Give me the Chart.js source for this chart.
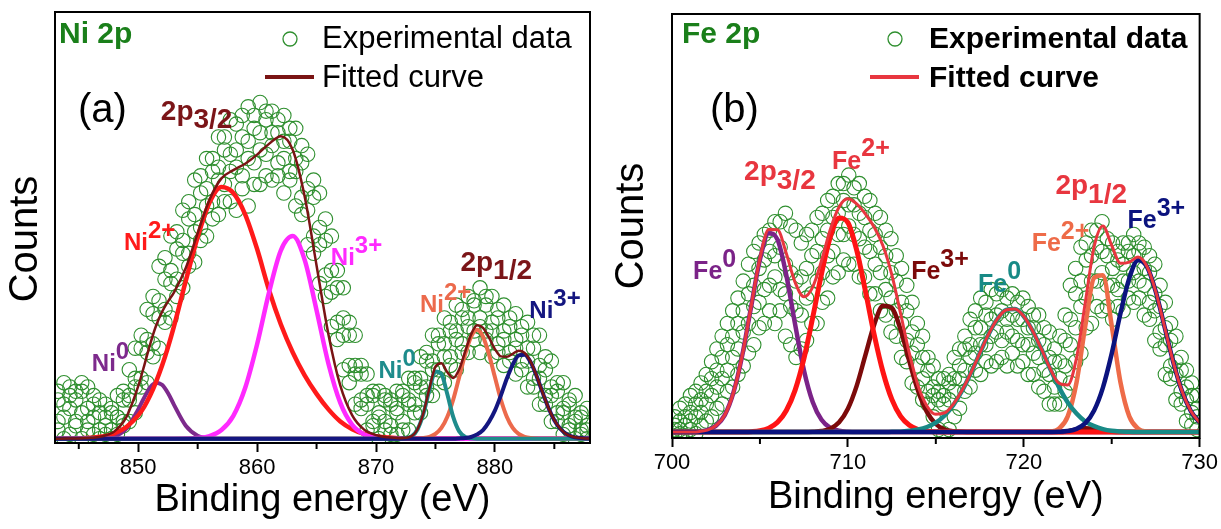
<!DOCTYPE html>
<html>
<head>
<meta charset="utf-8">
<script src="https://cdn.jsdelivr.net/npm/chart.js@4.4.1/dist/chart.umd.min.js"></script>
<style>
  body { margin: 0; background: #fff; }
  #wrap { position: relative; width: 1221px; height: 529px; }
  canvas { position: absolute; top: 0; }
</style>
</head>
<body>
<div id="wrap">
  <canvas id="ni_chart" width="610" height="529" style="left:0px"></canvas>
  <canvas id="fe_chart" width="611" height="529" style="left:610px"></canvas>
</div>
<script>
// ---- Ni 2p (a) ----
const niGrid = [843,844,845,846,847,848,849,850,
  850.5,851,851.5,852,852.5,853,
  854,855,856,857,858,859,860,861,862,863,
  864,865,866,867,868,869,870,871,872,873,
  873.5,874,874.5,875,875.5,876,876.5,877,877.5,878,
  878.5,879,879.5,880,880.5,881,881.5,882,882.5,883,
  883.5,884,884.5,885,885.5,886,886.5,887,888];
const niFit = [1.0,1.02,1.06,1.2,1.56,2.7,6.0,13.2,
  17.9,22.9,27.2,30.4,32.8,34.9,
  40.6,48.7,56.5,61.4,63.3,64.8,66.9,69.4,71.2,68.0,
  57.2,41.2,25.2,13.3,6.4,3.1,1.82,1.31,1.12,1.61,
  3.25,7.04,12.8,17.7,18.5,16.4,15.1,17.1,21.2,25.2,
  27.3,26.7,24.5,21.8,20.1,20.0,20.7,21.4,20.9,18.9,
  15.65,11.8,8.2,5.3,3.3,2.1,1.5,1.2,1.03];
const niZero = [1,1,1,1,1.06,1.5,3.3,7.8,
  10.5,12.9,14.0,13.5,11.6,8.9,
  4.0,1.7,1.1,1,1,1,1,1,1,1,
  1,1,1,1,1,1,1,1,1,1,
  1,1,1,1,1,1,1,1,1,1,
  1,1,1,1,1,1,1,1,1,1,
  1,1,1,1,1,1,1,1,1];
const niTwo = [1,1.02,1.06,1.2,1.5,2.2,3.7,6.4,
  8.4,11.0,14.2,17.9,22.2,27.0,
  37.6,47.8,55.8,59.4,58.0,53,45,35.5,27.5,21,
  15.7,11.4,7.8,5.0,3.2,2.1,1.56,1.26,1.12,1.05,
  1,1,1,1,1,1,1,1,1,1,
  1,1,1,1,1,1,1,1,1,1,
  1,1,1,1,1,1,1,1,1];
const niThree = [1,1,1,1,1,1,1,1,
  1,1,1,1,1,1,
  1.03,1.16,1.6,3.0,6.3,12.8,22.9,34.9,44.7,48,
  42.5,30.8,18.4,9.3,4.2,2.0,1.26,1.05,1,1,
  1,1,1,1,1,1,1,1,1,1,
  1,1,1,1,1,1,1,1,1,1,
  1,1,1,1,1,1,1,1,1];
const niZeroB = [1,1,1,1,1,1,1,1,
  1,1,1,1,1,1,
  1,1,1,1,1,1,1,1,1,1,
  1,1,1,1,1,1,1,1,1,1.56,
  3.2,6.9,12.4,16.6,16.0,11.3,6.0,2.7,1.41,1.07,
  1,1,1,1,1,1,1,1,1,1,
  1,1,1,1,1,1,1,1,1];
const niTwoB = [1,1,1,1,1,1,1,1,
  1,1,1,1,1,1,
  1,1,1,1,1,1,1,1,1,1,
  1,1,1,1,1,1,1,1,1,1,
  1.05,1.14,1.43,2.1,3.5,6.1,10.1,15.3,20.6,24.7,
  26.3,24.7,20.6,15.3,10.1,6.1,3.5,2.1,1.43,1.14,
  1.05,1,1,1,1,1,1,1,1];
const niThreeB = [1,1,1,1,1,1,1,1,
  1,1,1,1,1,1,
  1,1,1,1,1,1,1,1,1,1,
  1,1,1,1,1,1,1,1,1,1,
  1,1,1,1,1,1,1,1.06,1.16,1.4,
  2.0,3.0,4.9,7.5,11.0,14.9,18.2,20.3,20.5,18.8,
  15.6,11.8,8.2,5.3,3.3,2.1,1.5,1.2,1.03];
// measured counts: [energy, several readings]
const niExp = [
  [843.25,3,5,10,12],[843.75,1,6,9,14],[844.25,2,8,11,13],[844.75,4,5,10,12],
  [845.25,1,7,12,14],[845.75,3,5,8,13],[846.25,2,6,9,11],[846.75,1,3,7,10],
  [847.25,2,4,6,9],[847.75,1,3,7,8],[848.25,2,6,6,11],[848.75,4,5,10,12],
  [849.25,5,10,11,17],[849.75,7,13,15,22],[850.25,13,15,22,25],[850.75,14,21,24,31],
  [851.25,20,23,30,34],[851.75,22,29,33,41],[852.25,28,31,38,43],[852.75,29,37,40,48],
  [853.25,34,38,45,49],[853.75,36,44,47,54],[854.25,41,44,52,56],[854.75,42,49,53,61],
  [855.25,47,50,58,62],[855.75,48,55,59,66],[856.25,52,56,63,66],[856.75,53,61,64,71],
  [857.25,56,60,68,71],[857.75,56,63,67,75],[858.25,54,64,68,74],[858.75,59,62,71,76],
  [859.25,55,66,70,78],[859.75,60,65,73,76],[860.25,60,68,72,79],[860.75,62,67,75,77],
  [861.25,61,69,72,77],[861.75,62,65,72,75],[862.25,58,66,70,76],[862.75,61,63,70,73],
  [863.25,55,63,66,73],[863.75,53,57,65,69],[864.25,46,54,59,67],[864.75,44,48,57,61],
  [865.25,37,46,50,58],[865.75,34,39,47,52],[866.25,27,35,40,48],[866.75,24,28,36,40],
  [867.25,17,25,29,36],[867.75,14,18,25,28],[868.25,9,16,18,25],[868.75,8,10,16,18],
  [869.25,3,9,11,16],[869.75,4,5,11,12],[870.25,1,6,7,12],[870.75,3,5,10,11],
  [871.25,2,4,9,10],[871.75,2,7,8,12],[872.25,3,5,11,12],[872.75,3,9,10,15],
  [873.25,7,9,14,15],[873.75,7,13,15,20],[874.25,11,13,19,21],[874.75,11,17,19,25],
  [875.25,15,17,23,25],[875.75,14,20,23,29],[876.25,18,20,26,28],[876.75,17,24,26,32],
  [877.25,21,23,29,31],[877.75,21,27,29,34],[878.25,24,26,32,33],[878.75,21,27,29,36],
  [879.25,24,26,32,34],[879.75,20,26,28,34],[880.25,21,23,29,31],[880.75,18,24,26,32],
  [881.25,19,21,27,29],[881.75,16,22,24,30],[882.25,17,19,25,27],[882.75,13,19,22,28],
  [883.25,13,15,22,25],[883.75,9,15,18,25],[884.25,9,11,17,20],[884.75,5,11,13,19],
  [885.25,5,7,12,14],[885.75,2,7,8,14],[886.25,3,4,9,10],[886.75,1,5,6,11],
  [887.25,2,3,6,7],[887.75,1,3,4,8]
];
const niMinorTicks = [845, 855, 865, 875, 885];

// ---- Fe 2p (b) ----
const feGrid = [700,700.5,701,701.5,702,702.5,703,703.5,704,704.5,
  705,705.5,706,706.5,707,707.5,708,708.5,709,709.5,
  710,710.5,711,711.5,712,712.5,713,713.5,714,714.5,
  715,715.5,716,716.5,717,717.5,718,718.5,719,719.5,
  720,720.5,721,721.5,722,722.5,723,723.5,724,724.5,
  725,725.5,726,726.5,727,727.5,728,728.5,729,729.5,
  730];
const feFit = [1.4,1.4,1.42,1.5,1.85,2.9,5.4,10.8,19.6,31.1,
  42.4,49.2,49.1,43.5,36.7,33.3,35.6,41.8,49.2,54.5,
  56.4,55.2,52.8,49.7,45.3,38.5,29.3,19.9,12.2,7.5,
  5.6,5.9,8.0,11.3,15.4,20.0,24.5,28.1,30.2,30.4,
  28.7,25.3,21.0,16.4,12.9,12.5,18.9,32.0,45.1,50.0,
  45.4,41.2,41.5,42.7,40.5,34.6,26.3,17.9,11.0,6.35,
  3.66];
const feZero = [1.4,1.4,1.42,1.5,1.85,2.9,5.4,10.8,19.6,31.0,
  42.1,48.3,46.8,38.4,26.8,16.0,8.5,4.3,2.4,1.7,
  1.47,1.4,1.4,1.4,1.4,1.4,1.4,1.4,1.4,1.4,
  1.4,1.4,1.4,1.4,1.4,1.4,1.4,1.4,1.4,1.4,
  1.4,1.4,1.4,1.4,1.4,1.4,1.4,1.4,1.4,1.4,
  1.4,1.4,1.4,1.4,1.4,1.4,1.4,1.4,1.4,1.4,
  1.4];
const feTwo = [1.4,1.4,1.4,1.4,1.4,1.4,1.4,1.4,1.43,1.5,
  1.7,2.3,3.7,6.5,11.3,18.7,28.4,38.7,47.4,51.9,
  50.8,44.3,34.6,24.3,15.5,9.1,5.1,3.0,2.0,1.6,
  1.47,1.42,1.4,1.4,1.4,1.4,1.4,1.4,1.4,1.4,
  1.4,1.4,1.4,1.4,1.4,1.4,1.4,1.4,1.4,1.4,
  1.4,1.4,1.4,1.4,1.4,1.4,1.4,1.4,1.4,1.4,
  1.4];
const feThree = [1.4,1.4,1.4,1.4,1.4,1.4,1.4,1.4,1.4,1.4,
  1.4,1.4,1.4,1.4,1.4,1.4,1.46,1.64,2.2,3.7,
  6.9,12.3,19.6,26.8,31.2,30.7,25.5,18.0,11.0,6.1,
  3.3,2.0,1.6,1.45,1.4,1.4,1.4,1.4,1.4,1.4,
  1.4,1.4,1.4,1.4,1.4,1.6,2.0,2.3,2.2,1.8,
  1.5,1.4,1.4,1.4,1.4,1.4,1.4,1.4,1.4,1.4,
  1.4];
const feZeroB = [1.4,1.4,1.4,1.4,1.4,1.4,1.4,1.4,1.4,1.4,
  1.4,1.4,1.4,1.4,1.4,1.4,1.4,1.4,1.4,1.4,
  1.4,1.4,1.4,1.4,1.4,1.45,1.5,1.7,2.0,2.6,
  3.6,5.3,7.8,11.2,15.4,20.0,24.5,28.1,30.2,30.4,
  28.7,25.3,21.0,16.3,12.0,8.4,5.8,3.9,2.8,2.1,
  1.7,1.54,1.47,1.4,1.4,1.4,1.4,1.4,1.4,1.4,
  1.4];
const feTwoB = [1.4,1.4,1.4,1.4,1.4,1.4,1.4,1.4,1.4,1.4,
  1.4,1.4,1.4,1.4,1.4,1.4,1.4,1.4,1.4,1.4,
  1.4,1.4,1.4,1.4,1.4,1.4,1.4,1.4,1.4,1.4,
  1.4,1.4,1.4,1.4,1.4,1.4,1.4,1.4,1.4,1.4,
  1.4,1.4,1.4,1.5,2.2,5.1,13.1,26.5,37.8,38.4,
  26.5,13.1,5.1,2.2,1.5,1.4,1.4,1.4,1.4,1.4,
  1.4];
const feThreeB = [1.4,1.4,1.4,1.4,1.4,1.4,1.4,1.4,1.4,1.4,
  1.4,1.4,1.4,1.4,1.4,1.4,1.4,1.4,1.4,1.4,
  1.4,1.4,1.4,1.4,1.4,1.4,1.4,1.4,1.4,1.4,
  1.4,1.4,1.4,1.4,1.4,1.4,1.4,1.4,1.4,1.4,
  1.4,1.4,1.4,1.41,1.46,1.63,2.15,3.5,6.5,11.9,
  19.9,29.4,37.7,41.9,40.4,34.6,26.3,17.9,11.0,6.35,
  3.66];
const feExp = [
  [700.15,0.5,2,3,5],[700.45,1,2,4,7],[700.75,0.5,3,5,8],[701.05,2,4,6,10],
  [701.35,1,5,8,11],[701.65,3,6,9,13],[701.95,4,8,11,15],[702.25,5,10,14,18],
  [702.55,7,12,16,21],[702.85,8,14,19,24],[703.15,11,16,22,27],[703.45,12,19,24,30],
  [703.75,15,21,27,33],[704.05,17,25,30,37],[704.35,20,27,34,41],[704.65,22,31,36,44],
  [704.95,26,32,40,46],[705.25,27,35,42,48],[705.55,30,36,44,49],[705.85,27,38,43,51],
  [706.15,30,35,45,51],[706.45,24,34,41,53],[706.75,22,31,39,50],[707.05,19,30,37,49],
  [707.35,21,29,38,46],[707.65,23,33,40,48],[707.95,27,34,43,49],[708.25,27,37,44,52],
  [708.55,32,39,47,53],[708.85,33,43,49,56],[709.15,38,44,52,57],[709.45,39,48,53,60],
  [709.75,42,48,56,60],[710.05,41,50,55,62],[710.35,41,48,55,59],[710.65,38,47,53,60],
  [710.95,38,45,52,57],[711.25,34,44,49,56],[711.55,34,41,48,53],[711.85,30,39,45,52],
  [712.15,29,35,43,49],[712.45,25,33,39,47],[712.75,24,30,37,43],[713.05,19,27,32,40],
  [713.35,18,23,30,36],[713.65,13,20,25,32],[713.95,12,17,22,27],[714.25,9,14,19,24],
  [714.55,8,11,16,19],[714.85,5,10,12,17],[715.15,2,9,11,14],[715.45,1,8,10,14],
  [715.75,2,9,13,15],[716.05,5,11,14,19],[716.35,7,14,17,21],[716.65,11,16,21,24],
  [716.95,12,19,22,28],[717.25,16,20,26,30],[717.55,15,22,26,33],[717.85,18,22,29,32],
  [718.15,17,24,28,35],[718.45,18,25,29,34],[718.75,19,23,30,35],[719.05,17,25,28,33],
  [719.35,20,24,29,34],[719.65,17,23,28,32],[719.95,18,22,28,33],[720.25,15,22,26,31],
  [720.55,15,20,26,29],[720.85,12,19,23,29],[721.15,11,16,22,26],[721.45,8,15,19,25],
  [721.75,8,12,18,21],[722.05,8,14,18,24],[722.35,11,17,23,29],[722.65,13,22,28,36],
  [722.95,18,26,34,40],[723.25,20,31,37,45],[723.55,26,33,42,46],[723.85,27,37,43,49],
  [724.15,31,37,45,49],[724.45,30,39,44,51],[724.75,31,36,43,47],[725.05,28,36,40,46],
  [725.35,31,35,42,44],[725.65,30,37,41,46],[725.95,33,37,44,46],[726.25,32,39,43,48],
  [726.55,33,37,44,46],[726.85,29,36,40,45],[727.15,28,32,39,43],[727.45,23,30,34,41],
  [727.75,21,25,31,36],[728.05,15,22,26,32],[728.35,14,17,23,27],[728.65,9,15,18,24],
  [728.95,8,11,16,19],[729.25,4,9,12,16],[729.55,3,6,10,13],[729.85,2,5,7,10]
];
const feMinorTicks = [705, 715, 725];

const FONT = '"Liberation Sans", Arial, sans-serif';
const GREEN = "#2f8f2f";

// peak labels: parts are [text, baseline shift in em]
const niNotes = [
  {parts: [["2p", 0], ["3/2", 0.3]], color: "#7b1518", x: 851.9, y: 75.0, size: 28},
  {parts: [["Ni", 0], ["2+", -0.5]], color: "#ff1a1a", x: 848.8, y: 44.8, size: 24},
  {parts: [["Ni", 0], ["3+", -0.5]], color: "#ff2aff", x: 866.2, y: 41.4, size: 24},
  {parts: [["Ni", 0], ["0", -0.5]], color: "#7d2a8c", x: 846.1, y: 16.8, size: 24},
  {parts: [["2p", 0], ["1/2", 0.3]], color: "#7b1518", x: 877.1, y: 40.0, size: 28},
  {parts: [["Ni", 0], ["2+", -0.5]], color: "#ec6a4c", x: 873.7, y: 30.3, size: 24},
  {parts: [["Ni", 0], ["0", -0.5]], color: "#1e8c8c", x: 870.2, y: 15.0, size: 24},
  {parts: [["Ni", 0], ["3+", -0.5]], color: "#141680", x: 882.9, y: 29.0, size: 24}
];
const feNotes = [
  {parts: [["2p", 0], ["3/2", 0.3]], color: "#e8363f", x: 704.1, y: 60.8, size: 28},
  {parts: [["Fe", 0], ["2+", -0.5]], color: "#e8363f", x: 709.1, y: 63.5, size: 25},
  {parts: [["Fe", 0], ["0", -0.5]], color: "#7b2388", x: 701.2, y: 37.5, size: 25},
  {parts: [["Fe", 0], ["3+", -0.5]], color: "#7c0a0a", x: 713.6, y: 37.5, size: 25},
  {parts: [["Fe", 0], ["0", -0.5]], color: "#188a86", x: 717.4, y: 34.5, size: 25},
  {parts: [["2p", 0], ["1/2", 0.3]], color: "#e8363f", x: 721.8, y: 57.5, size: 28},
  {parts: [["Fe", 0], ["2+", -0.5]], color: "#ee6b48", x: 720.45, y: 44.0, size: 25},
  {parts: [["Fe", 0], ["3+", -0.5]], color: "#0b137e", x: 725.9, y: 49.5, size: 25}
];

function drawRich(ctx, parts, x, y, size, color, weight) {
  ctx.fillStyle = color;
  ctx.textAlign = "left";
  ctx.textBaseline = "alphabetic";
  let cx = x;
  parts.forEach(([t, shift]) => {
    ctx.font = weight + " " + size + "px " + FONT;
    ctx.fillText(t, cx, y + shift * size);
    cx += ctx.measureText(t).width;
  });
}

const decor = {
  id: "decor",
  afterDraw(chart, args, o) {
    const ctx = chart.ctx, a = chart.chartArea;
    const xs = chart.scales.x, ys = chart.scales.y;
    ctx.save();
    // minor ticks
    ctx.strokeStyle = "#000";
    ctx.lineWidth = 2;
    o.minor.forEach(v => {
      const px = xs.getPixelForValue(v);
      ctx.beginPath();
      ctx.moveTo(px, a.bottom);
      ctx.lineTo(px, a.bottom + 6);
      ctx.stroke();
    });
    // frame
    ctx.strokeRect(a.left, a.top, a.right - a.left, a.bottom - a.top);
    // peak labels
    o.notes.forEach(n => {
      drawRich(ctx, n.parts, xs.getPixelForValue(n.x), ys.getPixelForValue(n.y), n.size, n.color, "bold");
    });
    // panel tag and letter
    drawRich(ctx, [[o.tag, 0]], o.tagX, o.tagY, 30, "#1a7f1a", "bold");
    drawRich(ctx, [[o.letter, 0]], o.letterX, o.letterY, 40, "#000", "normal");
    // y title
    ctx.save();
    ctx.translate(o.countsX, o.countsY);
    ctx.rotate(-Math.PI / 2);
    ctx.font = "40px " + FONT;
    ctx.fillStyle = "#000";
    ctx.textAlign = "center";
    ctx.textBaseline = "middle";
    ctx.fillText("Counts", 0, 0);
    ctx.restore();
    // legend
    ctx.strokeStyle = GREEN;
    ctx.lineWidth = 1.3;
    ctx.beginPath();
    ctx.arc(o.circleX, o.circleY, 7, 0, Math.PI * 2);
    ctx.stroke();
    ctx.strokeStyle = o.fitColor;
    ctx.lineWidth = 4;
    ctx.beginPath();
    ctx.moveTo(o.lineX1, o.lineY);
    ctx.lineTo(o.lineX2, o.lineY);
    ctx.stroke();
    drawRich(ctx, [["Experimental data", 0]], o.textX, o.row1Y, o.legendSize, "#000", o.legendWeight);
    drawRich(ctx, [["Fitted curve", 0]], o.textX, o.row2Y, o.legendSize, "#000", o.legendWeight);
    ctx.restore();
  }
};

function buildChart(id, p) {
  const lines = p.fits.map(f => ({
    data: p.grid.map((x, i) => ({x: x, y: f.values[i]})),
    showLine: true,
    pointRadius: 0,
    borderColor: f.color,
    borderWidth: f.width,
    cubicInterpolationMode: "monotone",
    fill: false,
    order: f.order
  }));
  const pts = p.exp.flatMap(r => r.slice(1).map(y => ({x: r[0], y: y})));
  lines.push({
    data: pts,
    showLine: false,
    pointRadius: 7.2,
    pointBorderWidth: 1.1,
    pointBorderColor: GREEN,
    pointBackgroundColor: "rgba(0,0,0,0)",
    order: 20
  });
  return new Chart(id, {
    type: "scatter",
    data: {datasets: lines},
    plugins: [decor],
    options: {
      responsive: false,
      animation: false,
      events: [],
      layout: {padding: {left: 0, right: p.padRight, top: p.padTop, bottom: 0}},
      plugins: {legend: {display: false}, tooltip: {enabled: false}, decor: p.decor},
      scales: {
        x: {
          type: "linear", min: p.xMin, max: p.xMax,
          ticks: {stepSize: 10, includeBounds: false, color: "#000", padding: 3, maxRotation: 0,
                  font: {size: 22, family: FONT}},
          grid: {display: true, drawOnChartArea: false, drawTicks: true, tickLength: 9,
                 tickWidth: 2, tickColor: "#000"},
          border: {display: false},
          title: {display: true, text: "Binding energy (eV)", color: "#000",
                  font: {size: 38, family: FONT}, padding: {top: 0, bottom: p.titlePad}},
          afterFit: s => { s.height = p.xAxisHeight; }
        },
        y: {
          min: 0, max: 100,
          ticks: {display: false},
          grid: {display: false},
          border: {display: false},
          title: {display: false},
          afterFit: s => { s.width = p.yAxisWidth; }
        }
      }
    }
  });
}

ni_chart = buildChart("ni_chart", {
  grid: niGrid, exp: niExp, xMin: 843, xMax: 888,
  padRight: 20, padTop: 12, xAxisHeight: 86, yAxisWidth: 55, titlePad: 6,
  fits: [
    {values: niFit, color: "#7a1414", width: 2.5, order: 0},
    {values: niThreeB, color: "#141680", width: 4, order: 1},
    {values: niZeroB, color: "#1e8c8c", width: 4, order: 2},
    {values: niTwoB, color: "#ec6a4c", width: 4, order: 3},
    {values: niThree, color: "#ff2aff", width: 4.5, order: 4},
    {values: niTwo, color: "#ff1a1a", width: 4.5, order: 5},
    {values: niZero, color: "#7d2a8c", width: 4, order: 6}
  ],
  decor: {
    minor: niMinorTicks, notes: niNotes,
    tag: "Ni 2p", tagX: 59, tagY: 43, letter: "(a)", letterX: 78, letterY: 122,
    countsX: 26, countsY: 239,
    fitColor: "#7a1414", legendWeight: "normal", legendSize: 31,
    circleX: 290, circleY: 39, lineX1: 265, lineX2: 314, lineY: 77,
    textX: 322, row1Y: 48, row2Y: 87
  }
});

fe_chart = buildChart("fe_chart", {
  grid: feGrid, exp: feExp, xMin: 700, xMax: 730,
  padRight: 20, padTop: 14, xAxisHeight: 91, yAxisWidth: 62, titlePad: 9,
  fits: [
    {values: feFit, color: "#e8363f", width: 3, order: 0},
    {values: feThreeB, color: "#0b137e", width: 4.5, order: 1},
    {values: feZeroB, color: "#188a86", width: 4.5, order: 2},
    {values: feTwoB, color: "#ee6b48", width: 4.5, order: 3},
    {values: feTwo, color: "#ff1414", width: 5, order: 4},
    {values: feThree, color: "#7c0a0a", width: 4.5, order: 5},
    {values: feZero, color: "#7b2388", width: 4.5, order: 6}
  ],
  decor: {
    minor: feMinorTicks, notes: feNotes,
    tag: "Fe 2p", tagX: 72, tagY: 43, letter: "(b)", letterX: 100, letterY: 122,
    countsX: 22, countsY: 226,
    fitColor: "#e8363f", legendWeight: "bold", legendSize: 30,
    circleX: 285, circleY: 39, lineX1: 260, lineX2: 309, lineY: 77,
    textX: 319, row1Y: 48, row2Y: 87
  }
});
</script>
</body>
</html>
